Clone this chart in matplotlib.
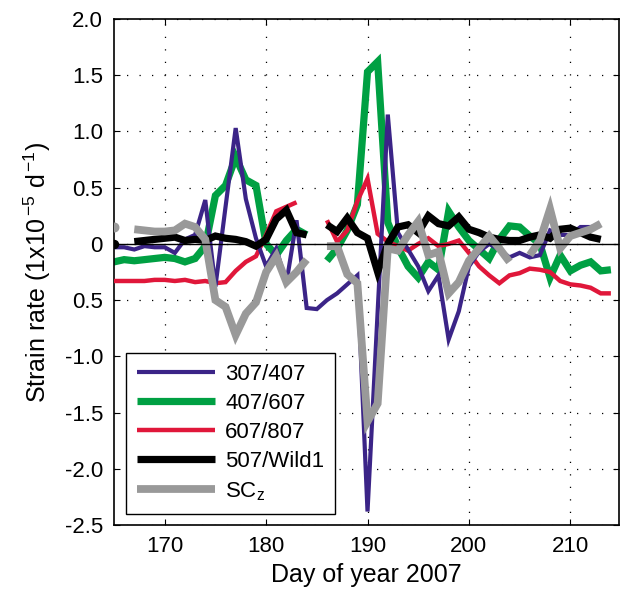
import numpy as np
import matplotlib
matplotlib.use("Agg")
import matplotlib.pyplot as plt

nan = np.nan
days = list(range(164, 215))

s307_407 = [-0.03, -0.03, -0.03, -0.05, -0.02, -0.03, -0.03, -0.08, 0.04, 0.08,
            0.39, -0.38, 0.33, 1.03, 0.40, 0.05, -0.20, -0.04, -0.35, 0.21,
            -0.57, -0.58, -0.50, -0.44, -0.36, -0.28, -2.38, -0.60, 1.15, 0.10,
            -0.05, -0.20, -0.42, -0.28, -0.85, -0.60, -0.20, -0.07, 0.00, -0.05,
            -0.12, -0.08, -0.12, -0.10, 0.12, 0.08, 0.08, 0.15, 0.15, 0.16, nan]

s407_607 = [-0.16, -0.16, -0.14, -0.15, -0.14, -0.13, -0.12, -0.13, -0.16, -0.13,
            -0.02, 0.43, 0.52, 0.77, 0.57, 0.52, 0.00, -0.10, 0.03, 0.13,
            0.08, nan, -0.15, -0.04, 0.12, 0.35, 1.53, 1.62, 0.19, -0.03,
            -0.20, -0.30, -0.16, -0.23, 0.29, 0.15, 0.03, -0.05, -0.13, 0.04,
            0.16, 0.15, 0.07, 0.00, -0.30, -0.10, -0.24, -0.19, -0.16, -0.24, -0.23]

s607_807 = [-0.33, -0.33, -0.33, -0.33, -0.33, -0.32, -0.32, -0.33, -0.32, -0.34,
            -0.33, -0.35, -0.34, -0.24, -0.16, -0.11, 0.08, 0.29, 0.33, 0.37,
            nan, nan, 0.21, 0.02, 0.12, 0.38, 0.58, 0.09, 0.02, -0.02,
            -0.06, 0.00, 0.05, -0.02, 0.00, 0.03, -0.08, -0.20, -0.28, -0.35,
            -0.28, -0.26, -0.22, -0.23, -0.25, -0.33, -0.36, -0.37, -0.39, -0.44, -0.44]

s507_wild1 = [0.00, 0.00, nan, 0.02, 0.03, 0.04, 0.05, 0.06, 0.03, 0.04,
              0.03, 0.07, 0.05, 0.04, 0.02, -0.02, 0.04, 0.22, 0.30, 0.10,
              0.08, nan, 0.17, 0.11, 0.23, 0.10, 0.05, -0.25, 0.00, 0.15,
              0.17, 0.10, 0.25, 0.18, 0.16, 0.24, 0.13, 0.10, 0.06, 0.04,
              0.03, 0.03, 0.06, 0.08, 0.05, 0.13, 0.14, 0.10, 0.06, 0.04, nan]

sc_z = [0.15, 0.15, nan, 0.13, 0.12, 0.11, 0.11, 0.12, 0.18, 0.15,
        0.04, -0.50, -0.56, -0.81, -0.62, -0.52, -0.25, -0.11, -0.34, -0.25,
        -0.14, nan, -0.02, -0.02, -0.27, -0.35, -1.58, -1.42, -0.04, -0.06,
        0.08, 0.20, -0.10, -0.07, -0.44, -0.34, -0.15, -0.04, 0.07, -0.04,
        -0.16, nan, -0.10, 0.03, 0.31, -0.04, 0.07, 0.10, 0.13, 0.18, nan]

labels = ["307/407", "407/607", "607/807", "507/Wild1", r"SC$_\mathregular{z}$"]
xticks = [170, 180, 190, 200, 210]
yticks = [2.0, 1.5, 1.0, 0.5, 0.0, -0.5, -1.0, -1.5, -2.0, -2.5]
yticklabels = ["2.0", "1.5", "1.0", "0.5", "0", "0.5", "-1.0", "-1.5", "-2.0", "-2.5"]

plt.rcParams['font.family'] = ['Liberation Sans', 'DejaVu Sans']
plt.rcParams['mathtext.fontset'] = 'custom'
plt.rcParams['mathtext.rm'] = 'Liberation Sans'
plt.rcParams['mathtext.it'] = 'Liberation Sans'

fig = plt.figure(figsize=(6.21, 5.91), dpi=100)
ax = fig.add_axes([114/621, 1-525/591, 505/621, 506/591])

series = [s307_407, s407_607, s607_807, s507_wild1, sc_z]
colors = ["#3b2487", "#00a043", "#e0173a", "#000000", "#999999"]
widths = [3.0, 5.2, 3.2, 5.2, 5.6]
zorders = [4, 2, 3, 5, 6]
edge_dot = [False, False, False, True, True]

handles = []
for vals, c, lw, z, lab, dot in zip(series, colors, widths, zorders, labels, edge_dot):
    h, = ax.plot(days, vals, color=c, lw=lw, zorder=z, label=lab,
                 solid_capstyle='butt', solid_joinstyle='miter')
    if dot:
        # isolated first sample at the left edge (neighbour missing)
        ax.plot(days[1:2], vals[1:2], 'o', color=c, ms=lw * 1.1, zorder=z)
    handles.append(h)

ax.axhline(0, color='black', lw=1.0, zorder=7)

ax.set_xlim(165, 214.8)
ax.set_ylim(-2.5, 2.0)
ax.set_xticks(xticks)
ax.set_yticks(yticks)
ax.set_yticklabels(yticklabels)
ax.grid(True, color='black', linestyle=(0, (1, 9)), linewidth=0.9, zorder=0)
ax.set_axisbelow(True)
ax.tick_params(direction='in', length=4, width=0.8, top=True, right=True,
               labelsize=16, pad=8, colors='black')
for sp in ax.spines.values():
    sp.set_linewidth(1.2)

ax.set_xlabel("Day of year 2007", fontsize=18, labelpad=4)
ax.set_ylabel(r"Strain rate (1x10$^{\,\mathregular{-5}}$ d$^{\,\mathregular{-1}}$)",
              fontsize=18, labelpad=8)

leg = ax.legend(handles=handles, loc='lower left', bbox_to_anchor=(0.024, 0.022),
                fontsize=16, frameon=True, fancybox=False, framealpha=1,
                edgecolor='black', handlelength=3.5, handletextpad=0.45,
                labelspacing=0.36, borderpad=0.5, borderaxespad=0)
leg.get_frame().set_linewidth(1.0)
leg.set_zorder(10)

fig.savefig("out.png", dpi=100)
